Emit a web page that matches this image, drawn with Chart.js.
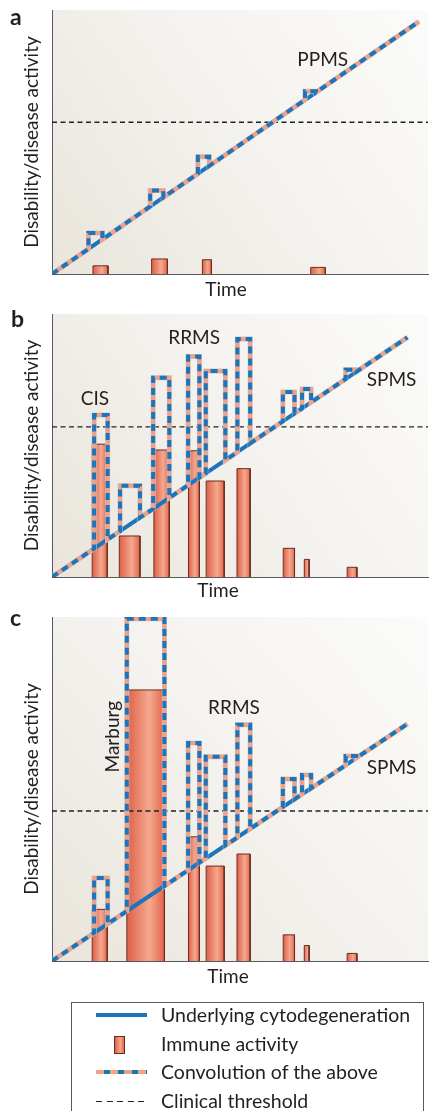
<!DOCTYPE html>
<html>
<head>
<meta charset="utf-8">
<script src="https://cdn.jsdelivr.net/npm/chart.js@4.4.0/dist/chart.umd.min.js"></script>
<style>
body { margin: 0; width: 430px; height: 1111px; background: #fff; position: relative; overflow: hidden; font-family: Lato, sans-serif; color: #231f20; }
.panel { position: absolute; left: 0; width: 430px; }
.tag { position: absolute; font-weight: bold; font-size: 23px; line-height: 23px; }
#legend { position: absolute; left: 71px; top: 1002px; width: 351px; height: 130px; border: 1px solid #58595b; }
#legend .rows { margin-top: -2px; }
#legend .row { position: relative; height: 28.5px; line-height: 28.5px; font-size: 19.5px; padding-left: 89px; white-space: nowrap; }
#legend .sym { position: absolute; left: 24px; }
.s-line { top: 12px; width: 51px; height: 4px; background: #1b75bc; }
.s-bar { top: 6px; left: 42px !important; width: 9px; height: 16px; border: 1px solid #6d2b1f; background: linear-gradient(90deg, #e0634a, #f4a88e 60%, #e2684d); }
.s-conv { top: 12px; width: 51px; height: 4px; background: repeating-linear-gradient(90deg, #f2a189 0 8px, #1b75bc 8px 14px); }
.s-dash { top: 14px; width: 51px; height: 1.4px; background: repeating-linear-gradient(90deg, #222 0 6px, transparent 6px 10.5px); }
</style>
</head>
<body>
<div class="panel" style="top:0;height:300px"><canvas id="chartA"></canvas></div>
<div class="panel" style="top:300px;height:310px"><canvas id="chartB"></canvas></div>
<div class="panel" style="top:600px;height:400px"><canvas id="chartC"></canvas></div>
<div class="tag" style="left:10px;top:5px">a</div>
<div class="tag" style="left:11px;top:307px">b</div>
<div class="tag" style="left:10px;top:606px">c</div>

<div id="legend"><div class="rows">
  <div class="row"><span class="sym s-line"></span>Underlying cytodegeneration</div>
  <div class="row"><span class="sym s-bar"></span>Immune activity</div>
  <div class="row"><span class="sym s-conv"></span>Convolution of the above</div>
  <div class="row"><span class="sym s-dash"></span>Clinical threshold</div>
</div></div>

<script>
// panel a - PPMS
var aLineX = [0, 97.6];
var aLineY = [0, 95.6];
var aThreshold = 57.5;
var aBarStart = [10.9, 26.5, 40.0, 68.8];
var aBarEnd = [14.9, 30.7, 42.4, 72.7];
var aBarHeight = [3.1, 5.7, 5.4, 2.5];
var aConvX = [0, 9.7, 9.7, 13.4, 13.4, 26.1, 26.1, 29.6, 29.6, 38.8, 38.8, 41.8, 41.8, 67.3, 67.3, 70.2, 70.2, 97.6];
var aConvY = [0, 9.5, 15.5, 15.5, 13.1, 25.6, 31.6, 31.6, 29.0, 38.0, 44.4, 44.4, 40.9, 66.0, 69.2, 69.2, 68.8, 95.6];

// panel b - CIS / RRMS / SPMS
var bLineX = [0, 94.5];
var bLineY = [0, 91.1];
var bThreshold = 57.1;
var bBarStart = [10.7, 17.9, 27.1, 36.3, 41.0, 49.2, 61.5, 67.1, 78.5];
var bBarEnd = [14.7, 23.4, 31.2, 39.2, 45.8, 52.7, 64.5, 68.4, 81.1];
var bBarHeight = [50.5, 15.6, 48.3, 48.0, 36.5, 41.2, 10.9, 6.7, 3.7];
var bConvX = [0, 11.2, 11.2, 14.8, 14.8, 18.1, 18.1, 23.4, 23.4, 26.9, 26.9, 31.2, 31.2, 36.2, 36.2, 39.2, 39.2,
  40.9, 40.9, 46.1, 46.1, 49.3, 49.3, 52.7, 52.7, 61.4, 61.4, 64.5, 64.5, 66.5, 66.5, 68.9, 68.9, 78.1, 78.1, 80.9, 80.9, 94.5];
var bConvY = [0, 10.8, 61.6, 61.6, 14.3, 17.4, 34.7, 34.7, 22.6, 25.9, 75.8, 75.8, 30.1, 34.9, 83.8, 83.8, 37.8,
  39.4, 78.3, 78.3, 44.4, 47.5, 90.5, 90.5, 50.8, 59.2, 70.3, 70.3, 62.2, 64.1, 71.5, 71.5, 66.4, 75.3, 78.8, 78.8, 78.0, 91.1];

// panel c - Marburg / RRMS / SPMS
var cLineX = [0, 94.5];
var cLineY = [0, 68.9];
var cThreshold = 43.6;
var cBarStart = [10.7, 19.9, 36.3, 41.0, 49.2, 61.5, 67.1, 78.5];
var cBarEnd = [14.7, 29.9, 39.2, 45.8, 52.7, 64.5, 68.4, 81.1];
var cBarHeight = [15.0, 78.8, 36.1, 27.6, 31.1, 7.6, 4.5, 2.2];
var cConvX = [0, 11.2, 11.2, 14.8, 14.8, 19.9, 19.9, 29.9, 29.9, 36.2, 36.2, 39.2, 39.2, 40.9, 40.9, 46.1, 46.1,
  49.3, 49.3, 52.7, 52.7, 61.4, 61.4, 64.5, 64.5, 66.5, 66.5, 68.9, 68.9, 78.1, 78.1, 80.9, 80.9, 94.5];
var cConvY = [0, 8.2, 24.1, 24.1, 10.8, 14.5, 99.5, 99.5, 21.8, 26.4, 63.4, 63.4, 28.6, 29.8, 59.4, 59.4, 33.6,
  35.9, 68.7, 68.7, 38.4, 44.8, 52.9, 52.9, 47.0, 48.5, 54.1, 54.1, 50.2, 56.9, 59.6, 59.6, 59.0, 68.9];

var BLUE = '#1b75bc';
var SALMON = '#f2a189';
var INK = '#231f20';

Chart.defaults.font.family = 'Lato';
Chart.defaults.color = INK;

function pts(xs, ys) {
  return xs.map(function(x, i) { return {x: x, y: ys[i]}; });
}

function barFill(x1, x2) {
  return function(context) {
    var chart = context.chart;
    if (!chart.chartArea) return '#ec8a70';
    var p1 = chart.scales.x.getPixelForValue(x1);
    var p2 = chart.scales.x.getPixelForValue(x2);
    var g = chart.ctx.createLinearGradient(p1, 0, p2, 0);
    g.addColorStop(0, '#df6048');
    g.addColorStop(0.6, '#f4a98f');
    g.addColorStop(1, '#e1654b');
    return g;
  };
}

// background of the plot, panel notes and the x title
var notesPlugin = {
  id: 'notes',
  beforeDraw: function(chart) {
    var a = chart.chartArea, ctx = chart.ctx;
    var g = ctx.createLinearGradient(a.left, a.bottom, a.right, a.top);
    g.addColorStop(0, '#e9e5dc');
    g.addColorStop(0.5, '#f4f2ee');
    g.addColorStop(1, '#fbfbf9');
    ctx.save();
    ctx.fillStyle = g;
    ctx.fillRect(a.left, a.top, a.right - a.left, a.bottom - a.top);
    ctx.restore();
  },
  afterDatasetsDraw: function(chart, args, opts) {
    var ctx = chart.ctx, xs = chart.scales.x, ys = chart.scales.y;
    ctx.save();
    ctx.fillStyle = INK;
    ctx.font = '19px Lato';
    ctx.textAlign = 'center';
    ctx.textBaseline = 'middle';
    (opts.items || []).forEach(function(n) {
      var px = xs.getPixelForValue(n.x), py = ys.getPixelForValue(n.y);
      if (n.rotate) {
        ctx.save();
        ctx.translate(px, py);
        ctx.rotate(-Math.PI / 2);
        ctx.fillText(n.text, 0, 0);
        ctx.restore();
      } else {
        ctx.fillText(n.text, px, py);
      }
    });
    ctx.fillText('Time', opts.timeX, opts.timeY);
    ctx.restore();
  }
};

function makePanel(id, d) {
  var datasets = [
    {label: 'Convolution of the above', data: pts(d.convX, d.convY), borderColor: BLUE, borderWidth: 4, borderDash: [7, 5], order: 0},
    {label: 'Convolution (base)', data: pts(d.convX, d.convY), borderColor: SALMON, borderWidth: 4, order: 1},
    {label: 'Convolution (edge)', data: pts(d.convX, d.convY), borderColor: '#cdc7c1', borderWidth: 5, order: 2},
    {label: 'Underlying cytodegeneration', data: pts(d.lineX, d.lineY), borderColor: BLUE, borderWidth: 4, order: 3},
    {label: 'Clinical threshold', data: [{x: 0, y: d.threshold}, {x: 100, y: d.threshold}], borderColor: '#222', borderWidth: 1.4, borderDash: [5, 3.5], order: 4}
  ];
  d.barStart.forEach(function(s, i) {
    var e = d.barEnd[i], h = d.barHeight[i];
    datasets.push({
      label: 'Immune activity',
      data: [{x: s, y: 0}, {x: s, y: h}, {x: e, y: h}, {x: e, y: 0}],
      fill: 'origin',
      backgroundColor: barFill(s, e),
      borderColor: '#6d2b1f',
      borderWidth: 1,
      order: 5
    });
  });

  return new Chart(document.getElementById(id), {
    type: 'line',
    data: {datasets: datasets},
    options: {
      animation: false,
      responsive: true,
      maintainAspectRatio: false,
      layout: {padding: {top: d.padTop, bottom: d.padBottom, left: 12, right: 2}},
      elements: {
        point: {radius: 0, hoverRadius: 0},
        line: {tension: 0, fill: false, borderCapStyle: 'butt', borderJoinStyle: 'miter'}
      },
      plugins: {
        legend: {display: false},
        tooltip: {enabled: false},
        notes: {items: d.notes, timeX: d.timeX, timeY: d.timeY}
      },
      scales: {
        x: {
          type: 'linear', min: 0, max: 100,
          ticks: {display: false},
          grid: {display: false, drawTicks: false},
          border: {color: '#58595b', width: 1}
        },
        y: {
          type: 'linear', min: 0, max: 100,
          ticks: {display: false},
          grid: {display: false, drawTicks: false},
          border: {color: '#58595b', width: 1},
          title: {display: true, text: 'Disability/disease activity', font: {size: 19}, color: INK, padding: {top: 8.6, bottom: 8.6}}
        }
      }
    },
    plugins: [notesPlugin]
  });
}

makePanel('chartA', {
  lineX: aLineX, lineY: aLineY, threshold: aThreshold,
  barStart: aBarStart, barEnd: aBarEnd, barHeight: aBarHeight,
  convX: aConvX, convY: aConvY,
  padTop: 10, padBottom: 26, timeX: 226, timeY: 290,
  notes: [{text: 'PPMS', x: 72, y: 81}]
});

makePanel('chartB', {
  lineX: bLineX, lineY: bLineY, threshold: bThreshold,
  barStart: bBarStart, barEnd: bBarEnd, barHeight: bBarHeight,
  convX: bConvX, convY: bConvY,
  padTop: 14, padBottom: 33, timeX: 218, timeY: 291,
  notes: [{text: 'CIS', x: 11.4, y: 67.9}, {text: 'RRMS', x: 37.8, y: 91.1}, {text: 'SPMS', x: 90.3, y: 74.9}]
});

makePanel('chartC', {
  lineX: cLineX, lineY: cLineY, threshold: cThreshold,
  barStart: cBarStart, barEnd: cBarEnd, barHeight: cBarHeight,
  convX: cConvX, convY: cConvY,
  padTop: 17, padBottom: 39, timeX: 228, timeY: 377,
  notes: [{text: 'Marburg', x: 16.1, y: 65.2, rotate: true}, {text: 'RRMS', x: 48.4, y: 73.7}, {text: 'SPMS', x: 90.3, y: 56.0}]
});
</script>
</body>
</html>
